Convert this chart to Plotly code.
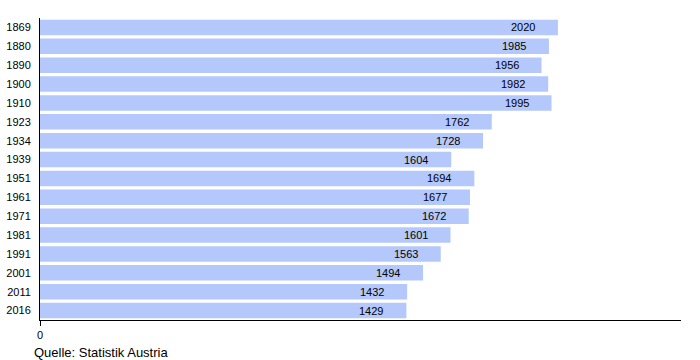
import plotly.graph_objects as go

years = ["1869", "1880", "1890", "1900", "1910", "1923", "1934", "1939", "1951",
         "1961", "1971", "1981", "1991", "2001", "2011", "2016"]
values = [2020, 1985, 1956, 1982, 1995, 1762, 1728, 1604, 1694,
          1677, 1672, 1601, 1563, 1494, 1432, 1429]
source = "Quelle: Statistik Austria"

idx = list(range(len(years)))

fig = go.Figure()
fig.add_trace(go.Bar(
    y=idx, x=values, orientation="h",
    marker=dict(color="#b5c8fc", line=dict(width=0)),
    customdata=years, hovertemplate="%{customdata}: %{x}<extra></extra>",
))
for i, v in zip(idx, values):
    fig.add_annotation(x=v, y=i, text=str(v), showarrow=False,
                       xanchor="right", xshift=-21,
                       font=dict(size=11, color="black"))
fig.add_annotation(xref="paper", yref="paper", x=-0.013, y=-0.075,
                   xanchor="left", yanchor="top", text=source, showarrow=False,
                   font=dict(size=13, color="black"))

fig.update_layout(
    width=700, height=360,
    margin=dict(l=40, r=19, t=18, b=40, autoexpand=False),
    paper_bgcolor="white", plot_bgcolor="white",
    bargap=0.18,
    showlegend=False,
    font=dict(family="Liberation Sans, Arial, sans-serif", size=11, color="black"),
    xaxis=dict(range=[0, 2500], tickvals=[0], ticktext=["0"], showgrid=False,
               zeroline=False, showline=True, linecolor="black", linewidth=1,
               ticks="outside", ticklen=5, tickcolor="black"),
    yaxis=dict(range=[len(years) - 0.5, -0.5], tickvals=idx, ticktext=years,
               showgrid=False, zeroline=False,
               showline=True, linecolor="black", linewidth=1, ticks="",
               ticklabelstandoff=6),
)
fig.write_html("out.html", config={"displayModeBar": False},
               post_script="document.body.style.margin='0';document.body.style.padding='0';")
